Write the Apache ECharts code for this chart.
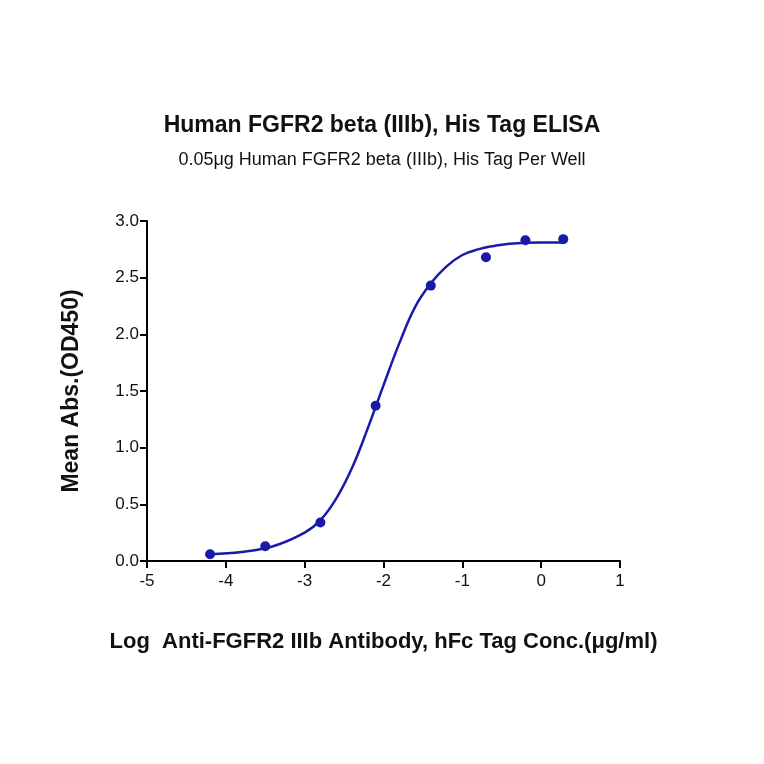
<!DOCTYPE html>
<html><head><meta charset="utf-8">
<script src="https://cdn.jsdelivr.net/npm/echarts@6/dist/echarts.min.js"></script>
<style>html,body{margin:0;background:#fff}#c{width:764px;height:764px}</style>
</head><body><div id="c"></div>
<script>
const pointX = [-4.2, -3.5, -2.8, -2.1, -1.4, -0.7, -0.2, 0.28];
const pointY = [0.06, 0.13, 0.34, 1.37, 2.43, 2.68, 2.83, 2.84];
const curveX = [-4.2,-3.8,-3.4,-3.0,-2.8,-2.6,-2.4,-2.2,-2.0,-1.8,-1.6,-1.4,-1.2,-1.0,-0.8,-0.6,-0.4,0,0.28];
const curveY = [0.06,0.08,0.13,0.25,0.36,0.55,0.82,1.17,1.55,1.92,2.24,2.45,2.6,2.7,2.75,2.78,2.8,2.81,2.81];
const col = '#1a1aa8';
const chart = echarts.init(document.getElementById('c'));
chart.setOption({
  animation:false,
  title:[
    {text:'Human FGFR2 beta (IIIb), His Tag ELISA',left:'center',top:109,textStyle:{fontFamily:'Arial, Liberation Sans',fontSize:23,fontWeight:'bold',color:'#111'}},
    {text:'0.05μg Human FGFR2 beta (IIIb), His Tag Per Well',left:'center',top:146,textStyle:{fontFamily:'Arial, Liberation Sans',fontSize:18,fontWeight:'normal',color:'#111'}}
  ],
  grid:{left:147,right:144,top:221,bottom:203},
  xAxis:{type:'value',min:-5,max:1,interval:1,
    name:'Log  Anti-FGFR2 IIIb Antibody, hFc Tag Conc.(μg/ml)',nameLocation:'middle',nameGap:70,
    nameTextStyle:{fontFamily:'Arial, Liberation Sans',fontSize:22,fontWeight:'bold',color:'#111'},
    axisLine:{onZero:false,lineStyle:{color:'#000',width:2}},axisTick:{length:7,lineStyle:{color:'#000',width:2}},
    axisLabel:{fontFamily:'Arial, Liberation Sans',fontSize:17,color:'#111',margin:12},splitLine:{show:false}},
  yAxis:{type:'value',min:0,max:3,interval:0.5,
    name:'Mean Abs.(OD450)',nameLocation:'middle',nameGap:64,
    nameTextStyle:{fontFamily:'Arial, Liberation Sans',fontSize:23,fontWeight:'bold',color:'#111'},
    axisLine:{show:true,onZero:false,lineStyle:{color:'#000',width:2}},axisTick:{show:true,length:7,lineStyle:{color:'#000',width:2}},
    axisLabel:{fontFamily:'Arial, Liberation Sans',fontSize:17,color:'#111',formatter:v=>v.toFixed(1)},splitLine:{show:false}},
  series:[
    {type:'line',data:curveX.map((x,i)=>[x,curveY[i]]),smooth:0.4,showSymbol:false,lineStyle:{color:col,width:2.5}},
    {type:'scatter',data:pointX.map((x,i)=>[x,pointY[i]]),symbolSize:10,itemStyle:{color:col,opacity:1}}
  ]
});
</script></body></html>
